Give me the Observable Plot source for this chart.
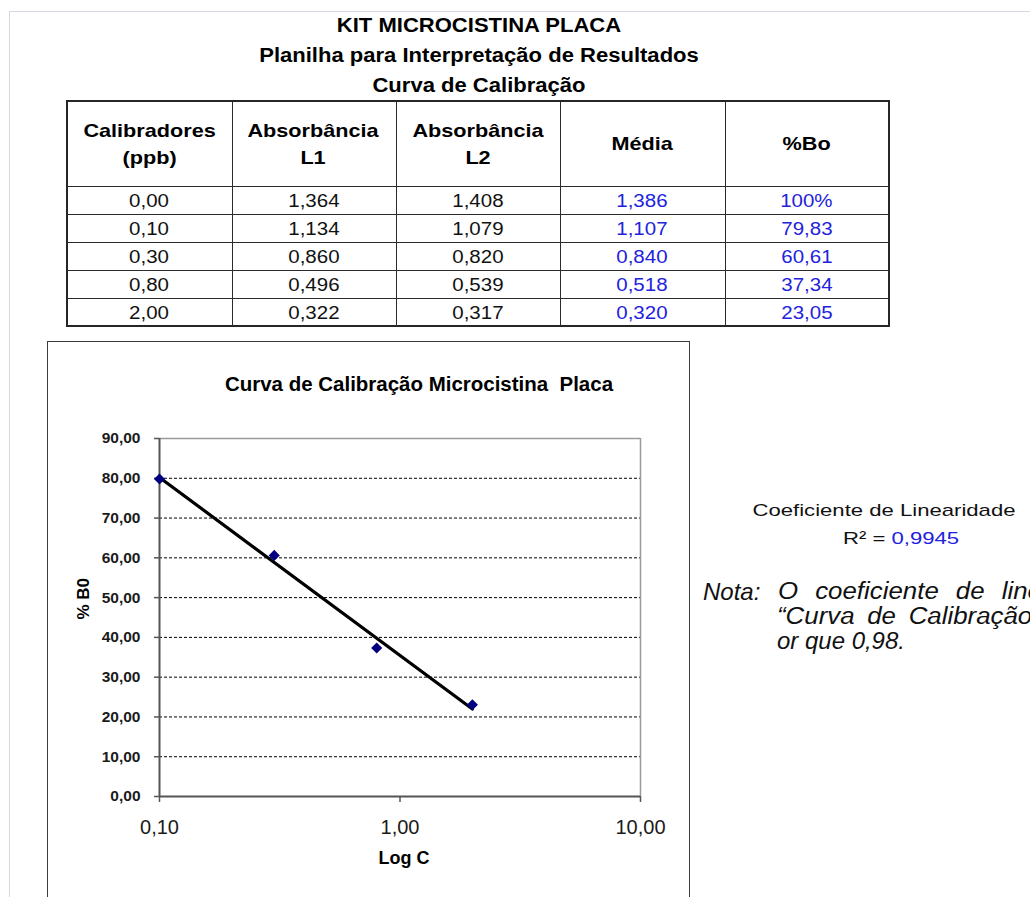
<!DOCTYPE html>
<html><head><meta charset="utf-8">
<script src="https://cdn.jsdelivr.net/npm/d3@7"></script>
<script src="https://cdn.jsdelivr.net/npm/@observablehq/plot@0.6"></script>
<style>
html,body{margin:0;padding:0;overflow:hidden;background:#fff}
body{width:1030px;height:897px;position:relative;font-family:"Liberation Sans",Arial,sans-serif;color:#111}
.abs{position:absolute;white-space:nowrap}
.ln{position:absolute;background:#2b2b2b}
.cell{position:absolute;display:flex;align-items:center;justify-content:center;text-align:center;white-space:nowrap;box-sizing:border-box}
.sx{display:inline-block}
#chartbox{position:absolute;left:47px;top:341px;width:643px;height:600px;border:1px solid #3c3c3c;box-sizing:border-box}
#chart{position:absolute;left:48px;top:405px}
</style></head><body>
<div class="abs" style="left:9px;top:11px;width:1040px;height:1px;background:#d3d8e4"></div>
<div class="abs" style="left:9px;top:11px;width:1px;height:900px;background:#d3d8e4"></div>
<div id="chartbox"></div>
<div id="chart"></div>
<script>
// ---------- data ----------
const titulos = ["KIT MICROCISTINA PLACA", "Planilha para Interpretação de Resultados", "Curva de Calibração"];
const cabecalhos = ["Calibradores<br>(ppb)", "Absorbância<br>L1", "Absorbância<br>L2", "Média", "%Bo"];
const calibradores = [0.00, 0.10, 0.30, 0.80, 2.00];
const absorbanciaL1 = [1.364, 1.134, 0.860, 0.496, 0.322];
const absorbanciaL2 = [1.408, 1.079, 0.820, 0.539, 0.317];
const media = [1.386, 1.107, 0.840, 0.518, 0.320];
const percentBo = [100, 79.83, 60.61, 37.34, 23.05];
const yTicks = [0, 10, 20, 30, 40, 50, 60, 70, 80, 90];
const xTicks = [0.1, 1, 10];
const gridY = [10, 20, 30, 40, 50, 60, 70, 80];
const tituloGrafico = "Curva de Calibração Microcistina\u00a0 Placa";
const eixoX = "Log C";
const eixoY = "% B0";
const coefTitulo = "Coeficiente de Linearidade";
const r2Valor = "0,9945";
const notaRotulo = "Nota:";
const nota = ["O coeficiente de linearidade da", "“Curva de Calibração” deve ser mai", "or que 0,98."];

const virg = (v, n) => v.toFixed(n).replace(".", ",");

// ---------- helper for baseline-positioned text ----------
function label(html, o) {
  const F = o.size, L = Math.round(F * 1.3);
  const top = o.base - (L - 1.117 * F) / 2 - 0.905 * F;
  const d = document.createElement("div");
  d.className = "abs";
  const sx = o.sx || 1;
  d.style.cssText += `top:${top}px;left:${o.x}px;line-height:${L}px;font-size:${F}px;font-weight:${o.weight||"normal"};font-style:${o.style||"normal"};color:${o.color||"#111"};letter-spacing:${o.ls||0}px;word-spacing:${o.ws||0}px;`;
  if (o.align === "center") {
    d.style.transformOrigin = "center";
    d.style.transform = `translateX(-50%) scaleX(${sx})`;
  } else {
    d.style.transformOrigin = "left";
    d.style.transform = `scaleX(${sx})`;
  }
  d.innerHTML = html;
  document.body.appendChild(d);
  return d;
}

// ---------- headings ----------
titulos.forEach((t, i) => label(t, {x: 479, base: 32 + 30 * i, size: 19.5, weight: "bold", align: "center", sx: 1.13, color: "#000"}));

// ---------- table ----------
const colX = [67, 231.5, 395.5, 560, 724.5, 889];
const rowY = [101, 186, 214, 242, 270, 298, 326];
const frame = document.createElement("div");
frame.className = "abs";
frame.style.cssText += `left:${colX[0]-1}px;top:${rowY[0]-1}px;width:${colX[5]-colX[0]+2}px;height:${rowY[6]-rowY[0]+2}px;border:2px solid #262626;box-sizing:border-box;`;
document.body.appendChild(frame);
colX.slice(1, 5).forEach(x => {
  const l = document.createElement("div"); l.className = "ln";
  l.style.cssText += `left:${Math.round(x)}px;top:${rowY[0]}px;width:1px;height:${rowY[6]-rowY[0]}px;`;
  document.body.appendChild(l);
});
rowY.slice(1, 6).forEach(y => {
  const l = document.createElement("div"); l.className = "ln";
  l.style.cssText += `left:${colX[0]}px;top:${y}px;width:${colX[5]-colX[0]}px;height:1px;`;
  document.body.appendChild(l);
});
function cell(html, c, r, css, sx) {
  const d = document.createElement("div");
  d.className = "cell";
  d.style.cssText += `left:${colX[c]}px;top:${rowY[r]}px;width:${colX[c+1]-colX[c]}px;height:${rowY[r+1]-rowY[r]}px;` + css;
  d.innerHTML = `<span class="sx" style="transform:scaleX(${sx})">${html}</span>`;
  document.body.appendChild(d);
}
cabecalhos.forEach((h, c) => cell(h, c, 0, "font-size:18.5px;font-weight:bold;line-height:27px;color:#000;", 1.17));
const blue = "#2222dd";
calibradores.forEach((v, i) => {
  const r = i + 1;
  const st = "font-size:17.5px;line-height:19px;padding-top:3px;";
  cell(virg(v, 2), 0, r, st + "color:#111;", 1.17);
  cell(virg(absorbanciaL1[i], 3), 1, r, st + "color:#111;", 1.17);
  cell(virg(absorbanciaL2[i], 3), 2, r, st + "color:#111;", 1.17);
  cell(virg(media[i], 3), 3, r, st + `color:${blue};`, 1.17);
  cell(percentBo[i] === 100 ? "100%" : virg(percentBo[i], 2), 4, r, st + `color:${blue};`, 1.17);
});

// ---------- chart title ----------
label(tituloGrafico, {x: 419, base: 391, size: 19.5, weight: "bold", align: "center", sx: 1.05, color: "#000"});

// ---------- regression (log10 x) ----------
const pts = calibradores.map((c, i) => ({c, b: percentBo[i]})).filter(d => d.c > 0);
const lx = pts.map(d => Math.log10(d.c)), ly = pts.map(d => d.b);
const mx = d3.mean(lx), my = d3.mean(ly);
const slope = d3.sum(lx, (x, i) => (x - mx) * (ly[i] - my)) / d3.sum(lx, x => (x - mx) ** 2);
const icpt = my - slope * mx;
const ext = d3.extent(pts, d => d.c);
const trend = ext.map(c => ({c, b: icpt + slope * Math.log10(c)}));

// ---------- chart ----------
const chart = Plot.plot({
  width: 640, height: 492,
  marginLeft: 111, marginRight: 48, marginTop: 33, marginBottom: 101,
  style: {background: "transparent", fontFamily: '"Liberation Sans", Arial, sans-serif', color: "#1a1a1a", overflow: "visible"},
  x: {type: "log", domain: [xTicks[0], xTicks[xTicks.length - 1]]},
  y: {domain: [yTicks[0], yTicks[yTicks.length - 1]]},
  marks: [
    Plot.ruleY(gridY, {stroke: "#000", strokeWidth: 1, strokeDasharray: "3,2"}),
    Plot.ruleY([yTicks[yTicks.length - 1]], {stroke: "#9a9a9a", strokeWidth: 1.5}),
    Plot.ruleX([xTicks[xTicks.length - 1]], {stroke: "#9a9a9a", strokeWidth: 1.5}),
    Plot.ruleX([xTicks[0]], {stroke: "#555", strokeWidth: 2}),
    Plot.ruleY([yTicks[0]], {stroke: "#555", strokeWidth: 2}),
    Plot.axisY({ticks: yTicks, tickFormat: d => virg(d, 2), tickSize: 5, tickPadding: 14, stroke: "#555", strokeWidth: 1.5, fontSize: 15.5, fontWeight: "bold", label: null}),
    Plot.axisX({ticks: xTicks, tickFormat: d => virg(d, 2), tickSize: 6, tickPadding: 17, stroke: "#555", strokeWidth: 1.5, fontSize: 20, label: null}),
    Plot.line(trend, {x: "c", y: "b", stroke: "#000", strokeWidth: 3.2}),
    Plot.dot(pts, {x: "c", y: "b", symbol: "diamond2", r: 5, fill: "#000080"}),
    Plot.text([eixoX], {frameAnchor: "bottom", dx: 4, dy: 67, fontSize: 18, fontWeight: "bold", fill: "#000"}),
    Plot.text([eixoY], {frameAnchor: "left", dx: -76, dy: 2, rotate: -90, fontSize: 17, fontWeight: "bold", fill: "#000"})
  ]
});
document.getElementById("chart").appendChild(chart);

// ---------- right-hand text ----------
label(coefTitulo, {x: 884, base: 517, size: 17, align: "center", sx: 1.3, color: "#111"});
label(`R² = <span style="color:${blue}">${r2Valor}</span>`, {x: 901, base: 545, size: 17, align: "center", sx: 1.3, color: "#111"});
label(notaRotulo, {x: 703, base: 600, size: 24, style: "italic", color: "#111"});
label(nota[0], {x: 778, base: 600, size: 23.5, style: "italic", ws: 9, sx: 1.1, color: "#111"});
label(nota[1], {x: 777, base: 625, size: 23.5, style: "italic", ws: 5, sx: 1.1, color: "#111"});
label(nota[2], {x: 777, base: 650, size: 23.5, style: "italic", sx: 1.02, color: "#111"});
</script>
</body></html>
